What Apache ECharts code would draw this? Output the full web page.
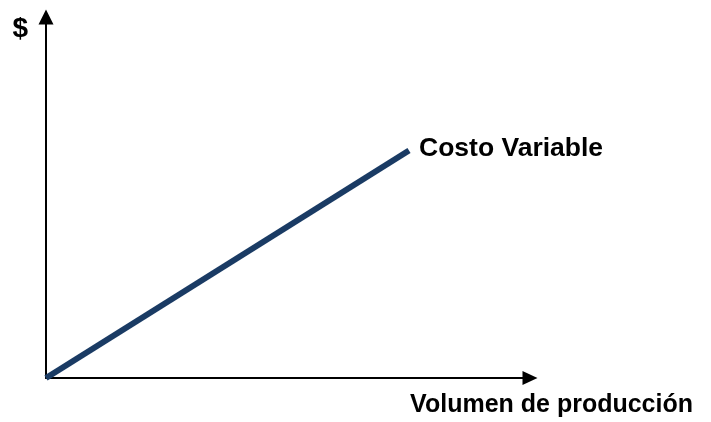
<!DOCTYPE html>
<html><head><meta charset="utf-8">
<script src="https://cdn.jsdelivr.net/npm/echarts@6/dist/echarts.min.js"></script>
<style>html,body{margin:0;padding:0;background:#fff}#c{width:711px;height:422px}</style>
</head><body><div id="c"></div>
<script>
const volumen = [0, 75];
const costo = [0, 63];
const serieNombre = 'Costo Variable';
const ejeX = 'Volumen de producción';
const ejeY = '$';

const chart = echarts.init(document.getElementById('c'), null, {renderer: 'canvas'});
const font = '"Liberation Sans", Arial, sans-serif';
chart.setOption({
  animation: false,
  backgroundColor: '#ffffff',
  grid: {left: 46, right: 181, top: 17, bottom: 44, containLabel: false},
  xAxis: {
    type: 'value', min: 0, max: 100,
    axisLine: {show: true, onZero: false, lineStyle: {color: '#000', width: 2}, symbol: ['none', 'triangle'], symbolSize: [14, 15], symbolOffset: [0, 0]},
    axisTick: {show: false}, axisLabel: {show: false}, splitLine: {show: false},
    name: ejeX, nameLocation: 'end', nameGap: 0,
    nameTextStyle: {fontFamily: font, fontWeight: 'bold', fontSize: 25, color: '#000', align: 'right', verticalAlign: 'top', padding: [15, -163, 0, 0]}
  },
  yAxis: {
    type: 'value', min: 0, max: 100,
    axisLine: {show: true, onZero: false, lineStyle: {color: '#000', width: 2}, symbol: ['none', 'triangle'], symbolSize: [15, 15]},
    axisTick: {show: false}, axisLabel: {show: false}, splitLine: {show: false},
    name: ejeY, nameLocation: 'end', nameGap: -12,
    nameTextStyle: {fontFamily: font, fontWeight: 'bold', fontSize: 28, color: '#000', align: 'right', verticalAlign: 'middle', padding: [0, 18, 0, 0]}
  },
  series: [{
    type: 'line', name: serieNombre,
    data: volumen.map((v, i) => [v, costo[i]]),
    showSymbol: false, symbol: 'none',
    lineStyle: {color: '#1a3b64', width: 6, cap: 'butt'},
    endLabel: {show: true, formatter: serieNombre, fontFamily: font, fontWeight: 'bold', fontSize: 26.5, color: '#000', distance: 10, offset: [0, -2]}
  }]
});
</script></body></html>
